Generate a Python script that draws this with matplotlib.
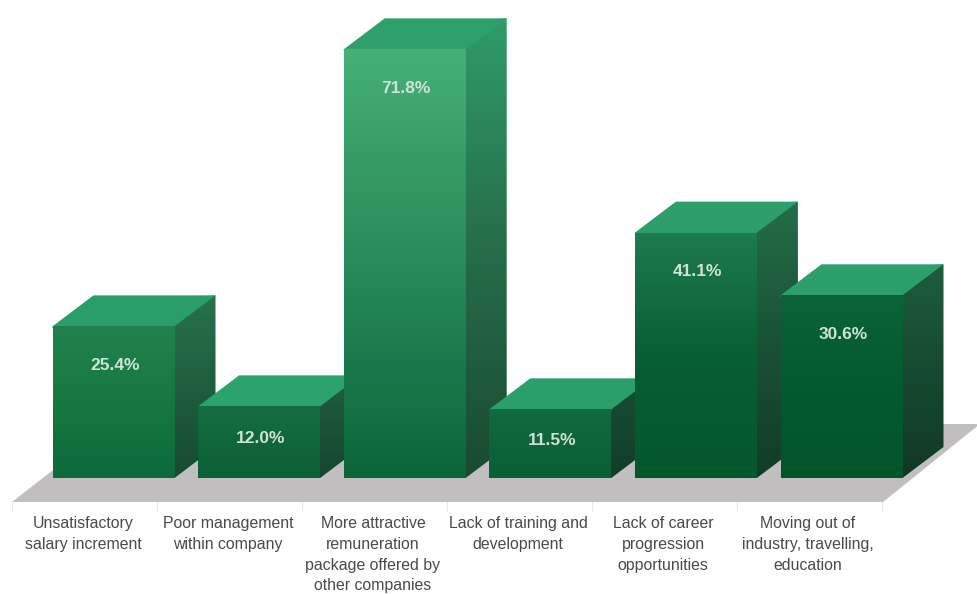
import numpy as np
from matplotlib import pyplot as plt
from matplotlib.colors import LinearSegmentedColormap
from matplotlib.patches import Polygon

plt.rcParams['font.family'] = ['Liberation Sans', 'DejaVu Sans']

categories = [
    'Unsatisfactory\nsalary increment',
    'Poor management\nwithin company',
    'More attractive\nremuneration\npackage offered by\nother companies',
    'Lack of training and\ndevelopment',
    'Lack of career\nprogression\nopportunities',
    'Moving out of\nindustry, travelling,\neducation',
]
values = [25.4, 12.0, 71.8, 11.5, 41.1, 30.6]

front_top = ['#22824f', '#156d42', '#46b077', '#106b3f', '#1e7b4d', '#0b6338']
front_mid = ['#16783f', '#106739', '#288a59', '#0d6539', '#085f33', '#035a2e']
front_bottom = ['#0c6a3c', '#0b6036', '#0a6639', '#0a5f35', '#03572c', '#01552a']
side_top = ['#27724d', '#205f3e', '#2f9c68', '#174f33', '#246e48', '#1e5c3c']
side_mid = ['#1f5e3e', '#1b5236', '#266d4a', '#144630', '#1a5236', '#164a30']
side_bottom = ['#174a30', '#17452e', '#1a4a30', '#123d28', '#123c27', '#103823']
top_face = ['#2a9e69', '#2ba36c', '#2fa06b', '#2b9f6a', '#2e9f6b', '#2d9f6a']

# layout in pixels, y pointing down
base_y = 478
px_per_pct = 5.97
bar_w = 122
depth_x, depth_y = 41, 31
bar_left = 52.5
bar_step = 145.6
floor_y = 502
tick_x = 12 + 145 * np.arange(7)


def gradient_face(ax, pts, colors, z):
    # fill a polygon with a vertical gradient through the given colours
    pts = np.array(pts)
    cmap = LinearSegmentedColormap.from_list('face', colors)
    grad = np.linspace(0, 1, 256).reshape(-1, 1)
    im = ax.imshow(grad, cmap=cmap, aspect='auto', zorder=z, interpolation='bilinear',
                   extent=(pts[:, 0].min(), pts[:, 0].max(), pts[:, 1].max(), pts[:, 1].min()))
    im.set_clip_path(Polygon(pts, closed=True, transform=ax.transData))


fig = plt.figure(figsize=(9.78, 5.94), dpi=100, facecolor='white')
ax = fig.add_axes([0, 0, 1, 1])

# grey floor under the bars
ax.add_patch(Polygon([(12, floor_y), (883, floor_y), (980, 424), (112, 424)],
                     closed=True, fc='#c0bebf', ec='none', zorder=1))
for x in tick_x:
    ax.plot([x, x], [floor_y, floor_y + 8], color='#e6e6e6', lw=0.8, zorder=1)

for i, v in enumerate(values):
    x0 = bar_left + i * bar_step
    x1 = x0 + bar_w
    y_top = base_y - v * px_per_pct
    z = 2 + i

    # right side and top run a little under the front face so no seam shows
    gradient_face(ax, [(x1 - 2, base_y), (x1, base_y), (x1 + depth_x, base_y - depth_y),
                       (x1 + depth_x, y_top - depth_y), (x1 - 2, y_top - depth_y * 0.9)],
                  [side_top[i], side_mid[i], side_bottom[i]], z)
    ax.add_patch(Polygon([(x0, y_top + 2), (x1, y_top + 2), (x1, y_top),
                          (x1 + depth_x, y_top - depth_y), (x0 + depth_x, y_top - depth_y), (x0, y_top)],
                         closed=True, fc=top_face[i], ec='none', zorder=z))
    gradient_face(ax, [(x0, base_y), (x1, base_y), (x1, y_top), (x0, y_top)],
                  [front_top[i], front_mid[i], front_bottom[i]], z)

    label_y = y_top + min(39, (base_y - y_top) * 0.45)
    ax.text(x0 + bar_w / 2 + 1.5, label_y, f'{v:.1f}%', ha='center', va='center',
            color='#cfe2d6', fontsize=12.5, fontweight='bold', zorder=z + 1)

    ax.text(83 + i * 145, 516, categories[i], ha='center', va='top', color='#4a4a4a',
            fontsize=11.4, linespacing=1.48, zorder=10)

ax.set_xlim(0, 978)
ax.set_ylim(594, 0)
ax.axis('off')

fig.savefig('out.png', dpi=100)
